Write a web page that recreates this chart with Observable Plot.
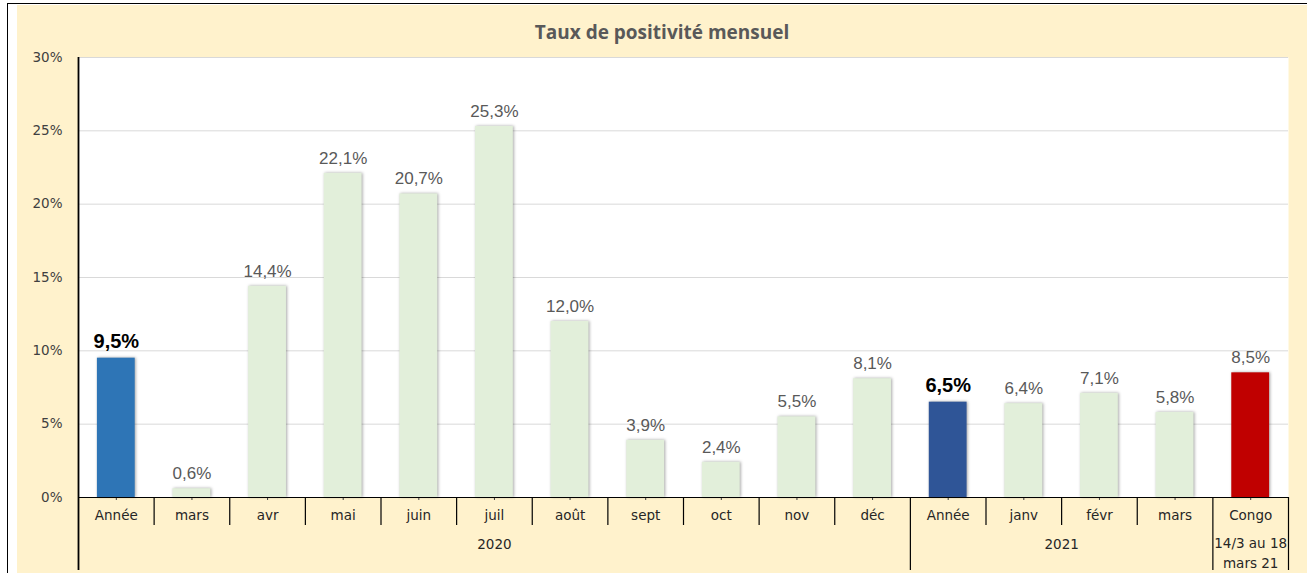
<!DOCTYPE html>
<html>
<head>
<meta charset="utf-8">
<script src="https://cdn.jsdelivr.net/npm/d3@7"></script>
<script src="https://cdn.jsdelivr.net/npm/@observablehq/plot@0.6"></script>
<style>
  html, body { margin: 0; padding: 0; background: #ffffff; width: 1307px; height: 573px; overflow: hidden; }
  #border { position: absolute; left: 7px; top: 3px; width: 1310px; height: 580px; border-left: 1.5px solid #000; border-top: 1.5px solid #000; }
  #chart { position: absolute; left: 17px; top: 5px; }
  #title { position: absolute; left: 17px; top: 19px; width: 1290px; text-align: center; font: bold 19px "Open Sans", sans-serif; color: #595959; }
</style>
</head>
<body>
<div id="border"></div>
<div id="chart"></div>
<div id="title">Taux de positivité mensuel</div>
<script>
// ---- data ----
const categories = ["Année","mars","avr","mai","juin","juil","août","sept","oct","nov","déc","Année","janv","févr","mars","Congo"];
const values = [9.5, 0.6, 14.4, 22.1, 20.7, 25.3, 12.0, 3.9, 2.4, 5.5, 8.1, 6.5, 6.4, 7.1, 5.8, 8.5];
const kinds = ["total2020","month","month","month","month","month","month","month","month","month","month","total2021","month","month","month","congo"];
const groupLabels = ["2020", "2021", "14/3 au 18\nmars 21"];
const yTicks = [0, 5, 10, 15, 20, 25, 30];
const kindColors = {total2020: "#2e75b6", month: "#e2efda", total2021: "#2f5597", congo: "#c00000"};

// ---- layout ----
const W = 1290, H = 568;
const mL = 61, mR = 19, mT = 52, mB = 76;
const n = categories.length;
const step = (W - mL - mR) / n;

const keys = categories.map((c, i) => i + "|" + c);
const data = keys.map((k, i) => ({key: k, value: values[i], kind: kinds[i], color: kindColors[kinds[i]]}));
const fmt = v => v.toFixed(1).replace(".", ",") + "%";
const isTotal = d => d.kind === "total2020" || d.kind === "total2021";
const bold = data.filter(isTotal);
const normal = data.filter(d => !isTotal(d));

const groupStarts = [0, 11, 15];
const innerSeps = keys.filter((k, i) => i > 0 && !groupStarts.includes(i));
const groupSeps = [keys[11], keys[15]];
const labelFont = "DejaVu Sans, sans-serif";

const plot = Plot.plot({
  width: W, height: H,
  marginLeft: mL, marginRight: mR, marginTop: mT, marginBottom: mB,
  style: {background: "#fff2cc", fontFamily: labelFont, fontSize: "13.5px", color: "#404040"},
  x: {domain: keys, round: false, paddingInner: 0.5, paddingOuter: 0.25, tickFormat: k => k.split("|")[1], tickSize: 3, tickPadding: 10, label: null},
  y: {domain: [0, 30], ticks: yTicks, tickFormat: d => d + "%", tickSize: 0, tickPadding: 16, label: null},
  color: {type: "identity"},
  marks: [
    Plot.frame({fill: "white", stroke: "none"}),
    Plot.ruleY(yTicks.slice(1), {stroke: "#d9d9d9", strokeWidth: 1}),
    Plot.barY(data, {x: "key", y: "value", fill: "color"}),
    Plot.ruleY([0], {stroke: "#000", strokeWidth: 1.2}),
    // left axis line extending down through label rows
    Plot.ruleX([keys[0]], {x: d => d, dx: -step / 2, insetBottom: -73, stroke: "#000", strokeWidth: 1.8}),
    // right boundary below baseline
    Plot.ruleX([keys[n - 1]], {x: d => d, dx: step / 2, y1: () => 0, insetBottom: -73, stroke: "#000", strokeWidth: 1.2}),
    // group separators
    Plot.ruleX(groupSeps, {x: d => d, dx: -step / 2, y1: () => 0, insetBottom: -73, stroke: "#000", strokeWidth: 1.2}),
    // category separators
    Plot.ruleX(innerSeps, {x: d => d, dx: -step / 2, y1: () => 0, insetBottom: -28, stroke: "#000", strokeWidth: 1.2}),
    // value labels
    Plot.text(normal, {x: "key", y: "value", text: d => fmt(d.value), dy: -15, fill: "#595959", fontSize: 17, fontFamily: "Liberation Sans, Arial, sans-serif"}),
    Plot.text(bold, {x: "key", y: "value", text: d => fmt(d.value), dy: -17, fill: "#000", fontSize: 20, fontWeight: "bold", fontFamily: "Liberation Sans, Arial, sans-serif"}),
    // group labels
    Plot.text([groupLabels[0]], {x: () => keys[5], frameAnchor: "bottom", lineAnchor: "middle", dy: 47, text: d => d, fill: "#262626", fontSize: 13.5}),
    Plot.text([groupLabels[1]], {x: () => keys[12], dx: step / 2, frameAnchor: "bottom", lineAnchor: "middle", dy: 47, text: d => d, fill: "#262626", fontSize: 13.5}),
    Plot.text([groupLabels[2]], {x: () => keys[15], frameAnchor: "bottom", lineAnchor: "middle", dy: 54, text: d => d, fill: "#262626", fontSize: 13.5, lineHeight: 1.5})
  ]
});

d3.select(plot).selectAll('g[aria-label="bar"] rect')
  .style("filter", "drop-shadow(1px 0.5px 1.5px rgba(0,0,0,0.35))");
d3.select(plot).selectAll('g[aria-label="x-axis tick label"] text, g[aria-label="x-axis"] text').attr("fill", "#262626");

document.getElementById("chart").appendChild(plot);
</script>
</body>
</html>
